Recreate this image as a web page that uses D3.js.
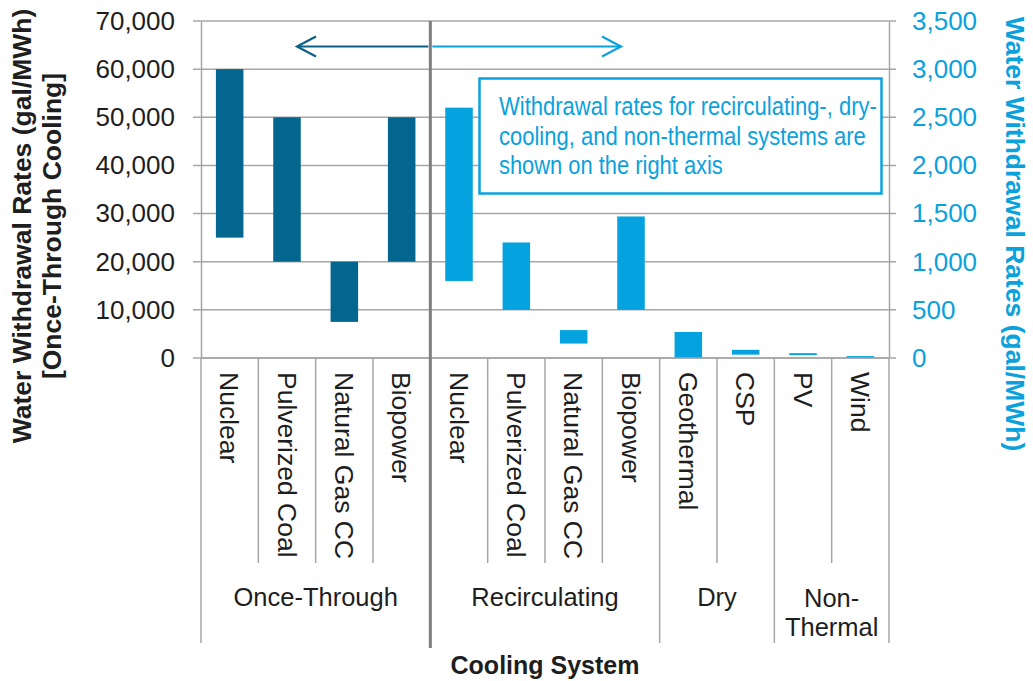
<!DOCTYPE html>
<html>
<head>
<meta charset="utf-8">
<script src="https://cdn.jsdelivr.net/npm/d3@7"></script>
<style>
  html, body { margin: 0; padding: 0; background: #fff; }
  svg { display: block; font-family: "Liberation Sans", Arial, sans-serif; }
</style>
</head>
<body>
<svg id="chart" width="1033" height="681"></svg>
<script>
// ---- data ----
const categories = ["Nuclear", "Pulverized Coal", "Natural Gas CC", "Biopower",
                    "Nuclear", "Pulverized Coal", "Natural Gas CC", "Biopower",
                    "Geothermal", "CSP", "PV", "Wind"];
const groupNames = ["Once-Through", "Recirculating", "Dry", "Non-Thermal"];
const groupSizes = [4, 4, 2, 2];
// Once-through values (left axis, gal/MWh)
const onceThroughLow  = [25000, 20000, 7500, 20000];
const onceThroughHigh = [60000, 50000, 20000, 50000];
// Recirculating, dry, non-thermal values (right axis, gal/MWh)
const otherLow  = [800, 500, 150, 500, 0, 35, 30, 0];
const otherHigh = [2600, 1200, 290, 1470, 270, 85, 50, 20];
const leftTicks  = [0, 10000, 20000, 30000, 40000, 50000, 60000, 70000];
const rightTicks = [0, 500, 1000, 1500, 2000, 2500, 3000, 3500];
const annotationLines = ["Withdrawal rates for recirculating-, dry-",
                         "cooling, and non-thermal systems are",
                         "shown on the right axis"];

// ---- layout ----
const svg = d3.select("#chart");
const L = 201, R = 889, T = 21, B = 358;
const dark = "#03668F", light = "#04A3E0", grid = "#A6A6A6", textCol = "#1E1E1E";

const x = d3.scaleBand().domain(d3.range(categories.length)).range([L, R])
  .paddingInner(0.52).paddingOuter(0.26);
const step = x.step();
const yL = d3.scaleLinear().domain([0, 70000]).range([B, T]);
const yR = d3.scaleLinear().domain([0, 3500]).range([B, T]);

// gridlines
svg.append("g").selectAll("line").data(leftTicks).join("line")
  .attr("x1", L - 8).attr("x2", R + 7)
  .attr("y1", d => yL(d)).attr("y2", d => yL(d))
  .attr("stroke", grid).attr("stroke-width", 1.5);

// left axis
const axL = svg.append("g").attr("transform", `translate(${L},0)`)
  .call(d3.axisLeft(yL).tickValues(leftTicks).tickFormat(d3.format(",")).tickSize(0).tickPadding(26));
axL.select(".domain").attr("stroke", grid).attr("stroke-width", 1.5);
axL.selectAll("text").attr("font-size", 26).attr("fill", textCol)
  .attr("font-family", "Liberation Sans, Arial, sans-serif");

// right axis
const axR = svg.append("g").attr("transform", `translate(${R},0)`)
  .call(d3.axisRight(yR).tickValues(rightTicks).tickFormat(d3.format(",")).tickSize(0).tickPadding(23));
axR.select(".domain").attr("stroke", grid).attr("stroke-width", 1.5);
axR.selectAll("text").attr("font-size", 26).attr("fill", "#0BA1DD")
  .attr("font-family", "Liberation Sans, Arial, sans-serif");

// category separators
const boundaries = d3.range(categories.length + 1);
const groupStarts = d3.cumsum([0].concat(groupSizes));
svg.append("g").selectAll("line").data(boundaries).join("line")
  .attr("x1", k => L + k * step).attr("x2", k => L + k * step)
  .attr("y1", B)
  .attr("y2", k => groupStarts.includes(k) ? 643 : 563)
  .attr("stroke", grid).attr("stroke-width", 1.5);

// category labels
svg.append("g").selectAll("text").data(categories).join("text")
  .attr("transform", (d, i) => `translate(${x(i) + x.bandwidth() / 2},${B + 14}) rotate(90)`)
  .attr("dy", "0.35em")
  .attr("font-size", 26.5).attr("fill", textCol)
  .text(d => d);

// group labels
const groupCenters = groupNames.map((g, i) => L + step * (groupStarts[i] + groupSizes[i] / 2));
groupNames.forEach((g, i) => {
  const t = svg.append("text").attr("x", groupCenters[i]).attr("text-anchor", "middle")
    .attr("font-size", 25.5).attr("fill", textCol);
  if (g === "Non-Thermal") {
    t.append("tspan").attr("x", groupCenters[i]).attr("y", 607).text("Non-");
    t.append("tspan").attr("x", groupCenters[i]).attr("y", 636).text("Thermal");
  } else {
    t.attr("y", 606).text(g);
  }
});

// bars
const bars = svg.append("g");
bars.selectAll("rect.once").data(onceThroughLow).join("rect").attr("class", "once")
  .attr("x", (d, i) => x(i)).attr("width", x.bandwidth())
  .attr("y", (d, i) => yL(onceThroughHigh[i]))
  .attr("height", (d, i) => yL(d) - yL(onceThroughHigh[i]))
  .attr("fill", dark);
bars.selectAll("rect.other").data(otherLow).join("rect").attr("class", "other")
  .attr("x", (d, i) => x(i + 4)).attr("width", x.bandwidth())
  .attr("y", (d, i) => yR(otherHigh[i]))
  .attr("height", (d, i) => Math.max(yR(d) - yR(otherHigh[i]), 1.5))
  .attr("fill", light);

// bottom axis line (redraw on top)
svg.append("line").attr("x1", L).attr("x2", R).attr("y1", B).attr("y2", B)
  .attr("stroke", grid).attr("stroke-width", 1.5);

// divider between once-through and others
const divX = L + 4 * step;
svg.append("line").attr("x1", divX).attr("x2", divX).attr("y1", T).attr("y2", 648)
  .attr("stroke", "#7F7F7F").attr("stroke-width", 3);

// arrow
const ay = 46.5, ax1 = 297, ax2 = 621;
svg.append("line").attr("x1", ax1).attr("x2", divX - 2).attr("y1", ay).attr("y2", ay)
  .attr("stroke", "#0D5F85").attr("stroke-width", 2);
svg.append("line").attr("x1", divX + 2).attr("x2", ax2).attr("y1", ay).attr("y2", ay)
  .attr("stroke", "#0AA2DE").attr("stroke-width", 2);
svg.append("path").attr("d", `M${ax1 + 19},${ay - 10} L${ax1},${ay} L${ax1 + 19},${ay + 10}`)
  .attr("fill", "none").attr("stroke", "#0D5F85").attr("stroke-width", 2.2);
svg.append("path").attr("d", `M${ax2 - 19},${ay - 10} L${ax2},${ay} L${ax2 - 19},${ay + 10}`)
  .attr("fill", "none").attr("stroke", "#0AA2DE").attr("stroke-width", 2.2);

// annotation box
svg.append("rect").attr("x", 479.5).attr("y", 78.5).attr("width", 402).attr("height", 115)
  .attr("fill", "#fff").attr("stroke", "#0AA3E0").attr("stroke-width", 2.5);
const lineLens = [378, 367, 224];
annotationLines.forEach((s, i) => {
  const g = svg.append("g").attr("transform", `translate(499,${115 + i * 29.7})`);
  const t = g.append("text").attr("x", 0).attr("y", 0)
    .attr("font-size", 26).attr("fill", "#0AA2DE")
    .attr("font-family", "'Liberation Sans Narrow', 'Arial Narrow', 'Liberation Sans', sans-serif")
    .text(s);
  const natural = t.node().getComputedTextLength();
  g.attr("transform", `translate(499,${115 + i * 29.7}) scale(${lineLens[i] / natural},1)`);
});

// axis titles
const lt = svg.append("text").attr("transform", "translate(0,226) rotate(-90)")
  .attr("text-anchor", "middle").attr("font-weight", "bold").attr("font-size", 26.5).attr("fill", textCol);
lt.append("tspan").attr("x", 0).attr("y", 31).text("Water Withdrawal Rates (gal/MWh)");
lt.append("tspan").attr("x", 0).attr("y", 61).text("[Once-Through Cooling]");

svg.append("text").attr("transform", "translate(1006,234) rotate(90)")
  .attr("text-anchor", "middle").attr("font-weight", "bold").attr("font-size", 26.5).attr("fill", "#0BA1DD")
  .text("Water Withdrawal Rates (gal/MWh)");

svg.append("text").attr("x", (L + R) / 2).attr("y", 674).attr("text-anchor", "middle")
  .attr("font-weight", "bold").attr("font-size", 25).attr("fill", textCol)
  .text("Cooling System");
</script>
</body>
</html>
